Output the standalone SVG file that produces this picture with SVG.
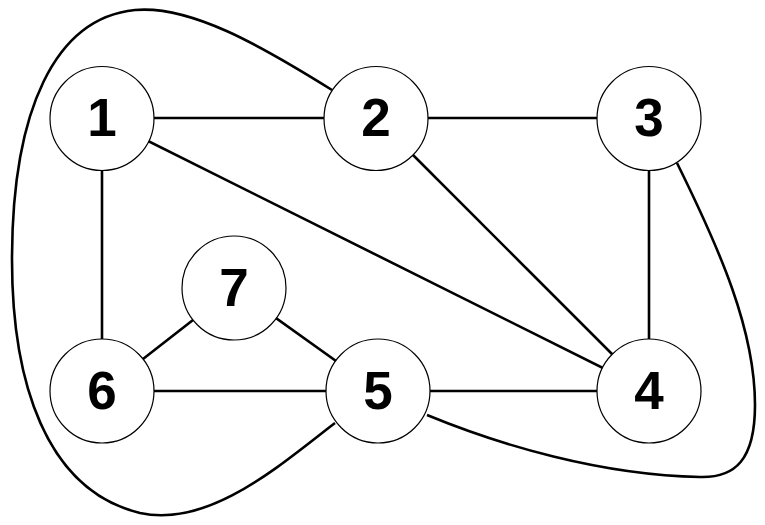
<svg xmlns="http://www.w3.org/2000/svg" width="765" height="525" viewBox="0 0 765 525">
<style>
.node circle{fill:#fff;stroke:#000;stroke-width:1.2}
.node text{font-family:"Liberation Sans",Arial,sans-serif;font-weight:bold;font-size:53px;text-anchor:middle;fill:#000}
.edges line,.edges path{stroke:#000;stroke-width:2.6;fill:none}
</style>
<rect width="765" height="525" fill="#fff"/>
<g id="connectors" class="edges">
<line x1="102" y1="118" x2="376" y2="118"/>
<line x1="376" y1="118" x2="649" y2="118"/>
<line x1="102" y1="118" x2="102" y2="391"/>
<line x1="649" y1="118" x2="649" y2="391"/>
<line x1="102" y1="391" x2="378" y2="391"/>
<line x1="378" y1="391" x2="649" y2="391"/>
<line x1="102" y1="118" x2="649" y2="391"/>
<line x1="376" y1="118" x2="649" y2="391"/>
<line x1="102" y1="391" x2="234" y2="288"/>
<line x1="234" y1="288" x2="378" y2="391"/>
<path d="M 332,90 C 260,45 190,5 135,10 C 55,18 12,110 12,260 C 12,380 45,490 140,513 C 210,528 280,465 335,423"/>
<path d="M 677,163 C 720,250 755,330 755,405 C 755,460 735,478 700,477 C 600,475 500,445 427,415"/>
</g>
<g id="node1" class="node"><circle cx="102" cy="118.5" r="52"/><text x="102" y="136">1</text></g>
<g id="node2" class="node"><circle cx="376" cy="118.5" r="52"/><text x="376" y="136">2</text></g>
<g id="node3" class="node"><circle cx="649" cy="118.5" r="52"/><text x="649" y="136">3</text></g>
<g id="node4" class="node"><circle cx="649" cy="391" r="52"/><text x="649" y="409">4</text></g>
<g id="node5" class="node"><circle cx="378" cy="391" r="52"/><text x="378" y="409">5</text></g>
<g id="node6" class="node"><circle cx="102" cy="391" r="52"/><text x="102" y="409">6</text></g>
<g id="node7" class="node"><circle cx="234" cy="288" r="52"/><text x="234" y="306">7</text></g>
</svg>
